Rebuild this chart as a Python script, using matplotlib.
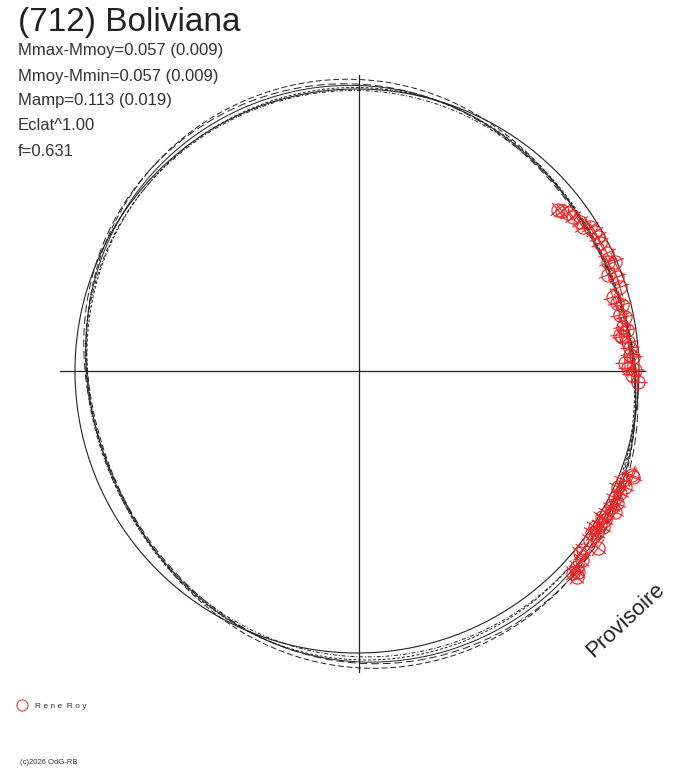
import numpy as np
import matplotlib
matplotlib.use("Agg")
import matplotlib.pyplot as plt
from matplotlib.collections import LineCollection
from matplotlib.lines import Line2D

plt.rcParams['font.family'] = ['Liberation Sans', 'DejaVu Sans']

# measured points: rotation phase (deg, polar angle) and relative flux (circle = 1)
phase_deg = [39.0, 38.2, 37.1, 35.7, 34.0, 32.7, 31.9, 30.5, 29.3, 28.0,
             25.4, 23.6, 23.1, 21.1, 20.0, 17.8, 16.2, 14.8, 14.1, 12.1,
             11.5, 9.5, 8.7, 7.9, 7.4, 6.2, 4.9, 3.4, 2.9, 1.7,
             0.6, 0.2, -0.8, -2.3,
             -20.9, -21.2, -22.4, -23.6, -24.1, -25.1, -26.4, -27.1, -28.3, -28.8,
             -29.8, -31.0, -31.2, -32.6, -32.6, -33.5, -34.2, -34.8, -36.2, -36.5,
             -38.6, -39.5, -40.3, -42.0, -42.5, -43.3, -43.4]
flux_rel = [0.908, 0.917, 0.929, 0.935, 0.945, 0.944, 0.965, 0.971, 0.972, 0.968,
            0.974, 0.964, 0.987, 0.946, 0.974, 0.972, 0.938, 0.946, 0.962, 0.946,
            0.962, 0.949, 0.961, 0.934, 0.940, 0.960, 0.965, 0.963, 0.973, 0.944,
            0.954, 0.979, 0.968, 0.990,
            1.036, 1.042, 1.013, 1.029, 1.006, 1.022, 1.013, 1.028, 1.018, 1.037,
            1.013, 1.005, 1.020, 1.014, 1.027, 1.003, 1.021, 1.006, 1.015, 1.055,
            1.017, 1.015, 1.037, 1.040, 1.054, 1.044, 1.063]
flux_err = 0.034   # radial error bar
phase_err = 2.0    # tangential error bar, deg

# Fourier fits (solid = best fit, dashed = alternatives)
fit_a0 = [0.996, 1.005, 0.988, 1.001, 0.991]
fit_a2 = [0.039, 0.052, 0.027, 0.047, 0.031]
fit_ph2 = [115, 112, 118, 119, 111]
fit_a1, fit_ph1 = 0.011, 300
fit_a4, fit_ph4 = -0.005, 115
fit_styles = ['-', (0, (6, 3)), (0, (4, 2, 1, 2)), (0, (8, 4)), (0, (3, 2))]

title = "(712) Boliviana"
info = ["Mmax-Mmoy=0.057 (0.009)", "Mmoy-Mmin=0.057 (0.009)",
        "Mamp=0.113 (0.019)", "Eclat^1.00", "f=0.631"]
observer = "R e n e  R o y"

W, H = 688, 768
cx, cy, scale = 359, 371, 282.0

fig = plt.figure(figsize=(W / 100, H / 100), dpi=100)
ax = fig.add_axes([0, 0, 1, 1])
ax.set_xlim(-cx / scale, (W - cx) / scale)
ax.set_ylim(-(H - cy) / scale, cy / scale)
ax.axis('off')

# axes cross
ax.axhline(0, xmin=60 / W, xmax=645 / W, color='#222222', lw=0.9)
ax.axvline(0, ymin=1 - 672 / H, ymax=1 - 75 / H, color='#222222', lw=0.9)

# reference circle
t = np.radians(np.linspace(0, 360, 721))
ax.plot(-2 / scale + np.cos(t), np.sin(t), color='#222222', lw=0.8)

# fitted curves
for a0, a2, p2, ls in zip(fit_a0, fit_a2, fit_ph2, fit_styles):
    r = (a0 + a2 * np.cos(2 * (t - np.radians(p2)))
         + fit_a1 * np.cos(t - np.radians(fit_ph1))
         + fit_a4 * np.cos(4 * (t - np.radians(fit_ph4))))
    ax.plot(r * np.cos(t), r * np.sin(t), color='#222222', lw=0.7, linestyle=ls)

# data points with radial and tangential error bars
th = np.radians(phase_deg)
fr = np.array(flux_rel)
ux, uy = np.cos(th), np.sin(th)
da = np.radians(phase_err)
segs = []
for x0, y0, r0, a in zip(ux, uy, fr, th):
    segs.append([((r0 - flux_err) * x0, (r0 - flux_err) * y0),
                 ((r0 + flux_err) * x0, (r0 + flux_err) * y0)])
    segs.append([(r0 * np.cos(a - da), r0 * np.sin(a - da)),
                 (r0 * np.cos(a + da), r0 * np.sin(a + da))])
ax.add_collection(LineCollection(segs, colors='#ee2222', linewidths=0.8))
ax.plot(fr * ux, fr * uy, 'o', mfc='none', mec='#ee2222', ms=9.5, mew=0.8)

# texts
fig.text(18 / W, 1 - 22 / H, title, fontsize=24, color='#222222', va='center')
for i, s in enumerate(info):
    fig.text(18 / W, 1 - (51 + 25 * i) / H, s, fontsize=12, color='#333333', va='center')

fig.add_artist(Line2D([22 / W], [1 - 705 / H], marker='o', mfc='none', mec='#dd4444',
                      ms=8, mew=0.8, transform=fig.transFigure))
fig.text(35 / W, 1 - 706 / H, observer, fontsize=6, color='#333333', va='center')
fig.text(20 / W, 1 - 763 / H, "(c)2026 OdG-RB", fontsize=5.5, color='#333333', va='center')

fig.text(625 / W, 1 - 620 / H, "Provisoire", fontsize=16, color='#222222',
         rotation=43, ha='center', va='center', rotation_mode='anchor')

fig.savefig('out.png', dpi=100)
